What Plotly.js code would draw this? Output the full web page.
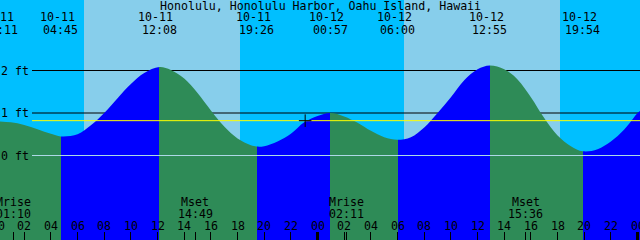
<!DOCTYPE html>
<html><head><meta charset="utf-8">
<script src="https://cdn.plot.ly/plotly-3.0.1.min.js"></script>
<style>html,body{margin:0;padding:0;background:#00BFFF}#chart{width:640px;height:240px}</style>
</head><body><div id="chart"></div>
<script>
// ---------- data ----------
const stationTitle = 'Honolulu, Honolulu Harbor, Oahu Island, Hawaii';
const graphStart = 11 / 60;   // 10-11 00:11, hours since 10-11 00:00
const graphHours = 48;

// tide curve samples (hours since 10-11 00:00, feet)
const sampleHours = [0.183, 1, 2, 3, 4, 4.75, 6, 7, 8, 9, 10, 11, 12.133,
  13, 14, 15, 16, 17, 18, 19, 19.433, 20, 21, 22, 23, 24, 24.95,
  26, 27, 28, 29, 30, 31, 32, 33, 34, 35, 36, 36.917,
  38, 39, 40, 41, 42, 43, 43.9, 45, 46, 47, 48, 48.183];
const sampleFeet = [0.80, 0.78, 0.72, 0.62, 0.51, 0.45, 0.50, 0.71, 1.00, 1.35, 1.68, 1.94, 2.08,
  2.01, 1.81, 1.47, 1.06, 0.68, 0.40, 0.24, 0.21, 0.22, 0.33, 0.51, 0.78, 0.93, 1.00,
  0.92, 0.77, 0.58, 0.43, 0.37, 0.43, 0.66, 1.00, 1.37, 1.77, 2.03, 2.12,
  2.03, 1.79, 1.37, 0.88, 0.47, 0.22, 0.10, 0.15, 0.33, 0.61, 1.00, 1.05];

const tideEventDates = ['10-11', '10-11', '10-11', '10-11', '10-12', '10-12', '10-12', '10-12'];
const tideEventTimes = ['00:11', '04:45', '12:08', '19:26', '00:57', '06:00', '12:55', '19:54'];
const tideEventKinds = ['high', 'low', 'high', 'low', 'high', 'low', 'high', 'low'];

const moonEventNames = ['Mrise', 'Mset', 'Mrise', 'Mset'];
const moonEventDates = ['10-11', '10-11', '10-12', '10-12'];
const moonEventTimes = ['01:10', '14:49', '02:11', '15:36'];

const sunriseDates = ['10-11', '10-12'];
const sunriseTimes = ['06:29', '06:29'];
const sunsetDates = ['10-11', '10-12'];
const sunsetTimes = ['18:11', '18:11'];

const levelValues = [0, 1, 2];
const levelLabels = ['0 ft', '1 ft', '2 ft'];
const meanLevel = 0.82;
const markHours = [23.07];
const markFeet = [0.82];

const hourTickVals = [0, 2, 4, 6, 8, 10, 12, 14, 16, 18, 20, 22, 24, 26, 28, 30, 32, 34, 36, 38, 40, 42, 44, 46, 48];
const hourTickText = ['00', '02', '04', '06', '08', '10', '12', '14', '16', '18', '20', '22', '00', '02', '04', '06', '08', '10', '12', '14', '16', '18', '20', '22', '00'];
const midnightTickVals = [0, 24, 48];

// ---------- style ----------
const nightColor = '#00BFFF', dayColor = '#87CEEB', floodColor = '#0000FF', ebbColor = '#2E8B57';
const datumColor = '#ADD8E6', mslColor = '#FFFF00', fg = '#000000';
const W = 640, H = 240;
const yRange = [-1.988, 3.659];
const xRange = [graphStart, graphStart + graphHours];
const fontFam = 'DejaVu Sans Mono';
const fontSize = 11.6;
const lineStartPx = 32;

function toHours(date, time) {
  const day = parseInt(date.split('-')[1], 10) - 11;
  const [hh, mm] = time.split(':').map(Number);
  return day * 24 + hh + mm / 60;
}
const pyPaper = px => 1 - px / H;

// ---------- flood / ebb gradient with hard stops at the tide turns ----------
const eventHours = tideEventTimes.map((t, i) => toHours(tideEventDates[i], t));
const frac = h => Math.min(1, Math.max(0, (h - xRange[0]) / graphHours));
const colorscale = [];
let cur = tideEventKinds[0] === 'high' ? ebbColor : floodColor;
colorscale.push([0, cur]);
eventHours.forEach((h, i) => {
  const next = tideEventKinds[i] === 'high' ? ebbColor : floodColor;
  const f = frac(h);
  colorscale.push([f, cur]);
  colorscale.push([f, next]);
  cur = next;
});
colorscale.push([1, cur]);

const xStartLines = xRange[0] + lineStartPx / W * graphHours;
const traces = [
  {x: [xRange[0], xRange[1]], y: [yRange[0], yRange[0]], mode: 'lines', line: {width: 0},
    hoverinfo: 'skip', showlegend: false},
  {x: sampleHours, y: sampleFeet, mode: 'lines', fill: 'tonexty', fillcolor: ebbColor,
    fillgradient: {type: 'horizontal', start: xRange[0], stop: xRange[1], colorscale: colorscale},
    line: {width: 0, shape: 'spline', smoothing: 1}, hoverinfo: 'skip', showlegend: false},
  {x: [xStartLines, xRange[1]], y: [levelValues[0], levelValues[0]], mode: 'lines',
    line: {color: datumColor, width: 1}, hoverinfo: 'skip', showlegend: false},
  {x: [xStartLines, xRange[1]], y: [meanLevel, meanLevel], mode: 'lines',
    line: {color: mslColor, width: 1}, hoverinfo: 'skip', showlegend: false},
  {x: markHours, y: markFeet, mode: 'markers',
    marker: {symbol: 'cross-thin', size: 9, line: {width: 1, color: fg}}, showlegend: false},
  {x: [xRange[0]], y: [yRange[0]], xaxis: 'x2', mode: 'markers', marker: {opacity: 0}, showlegend: false},
  {x: [xRange[0]], y: [yRange[0]], xaxis: 'x3', mode: 'markers', marker: {opacity: 0}, showlegend: false}
];

// ---------- shapes ----------
const shapes = [];
for (let i = 0; i < sunriseTimes.length; i++) {
  shapes.push({type: 'rect', xref: 'x', yref: 'paper', layer: 'below',
    x0: toHours(sunriseDates[i], sunriseTimes[i]), x1: toHours(sunsetDates[i], sunsetTimes[i]),
    y0: 0, y1: 1, fillcolor: dayColor, line: {width: 0}});
}
levelValues.filter(v => v !== 0).forEach(v => {
  shapes.push({type: 'line', xref: 'x', yref: 'y', x0: xStartLines, x1: xRange[1], y0: v, y1: v,
    layer: 'below', line: {color: fg, width: 1}});
});

// ---------- annotations ----------
const ann = [];
const font = {family: fontFam, size: fontSize, color: fg};
function addText(text, h, ypx, xshift) {
  const inside = h >= xRange[0] && h <= xRange[1];
  ann.push({text: text, showarrow: false, font: font,
    xref: inside ? 'x' : 'paper', x: inside ? h : (h - xRange[0]) / graphHours,
    yref: 'paper', y: pyPaper(ypx), xanchor: 'center', yanchor: 'middle',
    xshift: xshift || 0, borderpad: 0, borderwidth: 0});
}
ann.push({text: stationTitle, showarrow: false, font: font, xref: 'paper', yref: 'paper',
  x: 0.5, y: pyPaper(5.5), xanchor: 'center', yanchor: 'middle', borderpad: 0, borderwidth: 0});
for (let i = 0; i < tideEventTimes.length; i++) {
  addText(tideEventDates[i], eventHours[i], 17.5, -3.5);
  addText(tideEventTimes[i], eventHours[i], 29.5, 0);
}
for (let i = 0; i < moonEventTimes.length; i++) {
  const h = toHours(moonEventDates[i], moonEventTimes[i]);
  addText(moonEventNames[i], h, 202, 0);
  addText(moonEventTimes[i], h, 214, 0);
}
for (let i = 0; i < hourTickVals.length; i++) addText(hourTickText[i], hourTickVals[i], 226, 0);
levelValues.forEach((v, i) => {
  ann.push({text: levelLabels[i], showarrow: false, font: font, xref: 'paper', yref: 'y',
    x: 1 / W, y: v, xanchor: 'left', yanchor: 'middle', borderpad: 0, borderwidth: 0});
});

const moonHours = moonEventTimes.map((t, i) => toHours(moonEventDates[i], t));
const baseAxis = {range: xRange, showgrid: false, zeroline: false, showline: false,
  showticklabels: false, ticks: 'inside', ticklen: 8, tickcolor: fg, tickmode: 'array', fixedrange: true};

const layout = {
  width: W, height: H, margin: {l: 0, r: 0, t: 0, b: 0},
  paper_bgcolor: nightColor, plot_bgcolor: nightColor,
  showlegend: false,
  xaxis: Object.assign({}, baseAxis, {tickvals: hourTickVals, tickwidth: 1}),
  xaxis2: Object.assign({}, baseAxis, {tickvals: moonHours, tickwidth: 1, overlaying: 'x', anchor: 'y'}),
  xaxis3: Object.assign({}, baseAxis, {tickvals: midnightTickVals, tickwidth: 3, overlaying: 'x', anchor: 'y'}),
  yaxis: {range: yRange, showgrid: false, zeroline: false, showticklabels: false, ticks: '', fixedrange: true},
  shapes: shapes, annotations: ann
};
Plotly.newPlot('chart', traces, layout, {staticPlot: true, displayModeBar: false});
</script></body></html>
